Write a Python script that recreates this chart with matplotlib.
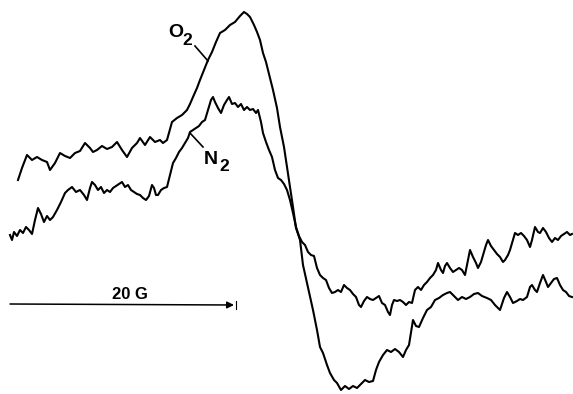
import matplotlib.pyplot as plt

# traces (x: field position, y: signal, image-like units, y down)
o2_x = [18, 22, 27, 32, 37, 42, 47, 50, 55, 60, 65, 70, 75, 80, 85, 90, 93, 97, 102, 107,
        112, 117, 122, 127, 132, 137, 140, 145, 150, 155, 160, 163, 167, 172, 177, 182, 187,
        190, 193, 197, 200, 204, 208, 212, 216, 220, 225, 230, 235, 240, 244, 247, 250, 254,
        257, 260, 263, 266, 270, 273, 277, 280, 284, 287, 290, 293, 296, 300, 303, 307, 310,
        313, 317, 320, 323, 327, 330, 334, 337, 341, 345, 349, 353, 357, 361, 365, 369, 373,
        376, 379, 383, 387, 391, 395, 399, 403, 406, 409, 413, 416, 419, 423, 427, 431, 435,
        439, 443, 447, 450, 454, 458, 462, 466, 470, 474, 478, 482, 487, 491, 495, 500, 504,
        507, 510, 513, 517, 520, 523, 527, 530, 532, 535, 537, 540, 543, 546, 548, 551, 554,
        557, 560, 563, 566, 569, 572]
o2_y = [180, 168, 155, 160, 157, 160, 162, 170, 163, 153, 156, 158, 153, 151, 143, 148, 152,
        150, 146, 149, 147, 142, 150, 157, 148, 143, 138, 145, 137, 142, 140, 143, 140, 122,
        118, 115, 110, 104, 97, 88, 80, 70, 60, 52, 42, 33, 30, 25, 22, 16, 12, 14, 17, 25, 32,
        40, 53, 62, 78, 90, 108, 127, 147, 167, 187, 207, 228, 240, 265, 283, 297, 310, 330,
        347, 353, 365, 373, 380, 383, 390, 386, 389, 386, 388, 384, 380, 382, 381, 370, 362,
        355, 350, 352, 349, 352, 357, 350, 345, 320, 326, 327, 318, 310, 307, 300, 298, 295,
        293, 292, 296, 300, 297, 299, 297, 294, 293, 296, 298, 300, 305, 310, 298, 292, 297,
        303, 301, 299, 300, 297, 287, 285, 290, 292, 283, 275, 282, 287, 283, 279, 278, 285,
        290, 292, 296, 297]

n2_x = [10, 12, 14, 17, 20, 23, 26, 29, 32, 35, 38, 41, 44, 47, 50, 53, 57, 61, 65, 68, 72,
        76, 80, 84, 87, 90, 92, 95, 98, 101, 104, 107, 110, 113, 116, 119, 122, 125, 128, 131,
        134, 137, 140, 143, 146, 149, 152, 154, 156, 158, 161, 164, 167, 170, 173, 176, 179,
        182, 185, 188, 190, 193, 196, 199, 202, 205, 208, 211, 213, 215, 218, 221, 224, 227,
        229, 232, 235, 238, 241, 244, 247, 250, 253, 256, 258, 261, 263, 266, 269, 272, 275,
        278, 281, 284, 287, 290, 293, 296, 299, 302, 305, 308, 311, 314, 317, 320, 323, 326,
        329, 332, 335, 338, 341, 344, 347, 350, 353, 356, 359, 361, 364, 367, 370, 373, 376,
        379, 382, 385, 388, 390, 392, 394, 397, 400, 403, 406, 409, 412, 415, 418, 421, 424,
        427, 430, 433, 436, 438, 441, 443, 445, 447, 450, 453, 456, 459, 462, 465, 468, 470,
        473, 476, 478, 481, 484, 486, 488, 491, 494, 497, 500, 503, 505, 508, 510, 513, 515,
        518, 521, 524, 527, 530, 532, 535, 538, 540, 543, 546, 549, 552, 555, 558, 561, 564,
        567, 570, 572]
n2_y = [235, 240, 232, 236, 230, 233, 227, 230, 234, 220, 208, 214, 222, 216, 220, 217, 210,
        202, 193, 190, 187, 192, 190, 195, 200, 188, 182, 185, 190, 187, 193, 190, 192, 188,
        186, 184, 182, 187, 185, 190, 192, 194, 195, 198, 200, 196, 185, 188, 195, 195, 190,
        188, 187, 175, 163, 158, 152, 148, 143, 138, 132, 130, 128, 126, 122, 120, 110, 100,
        97, 102, 108, 113, 105, 100, 97, 104, 103, 107, 104, 110, 107, 110, 109, 113, 110, 122,
        133, 142, 150, 157, 170, 178, 180, 184, 190, 200, 213, 227, 236, 242, 245, 252, 255,
        256, 268, 275, 278, 280, 288, 293, 292, 290, 292, 285, 288, 290, 294, 297, 305, 307,
        301, 297, 299, 300, 298, 296, 303, 305, 312, 315, 305, 300, 301, 300, 302, 305, 302,
        303, 290, 287, 290, 285, 282, 278, 275, 270, 263, 270, 273, 266, 263, 268, 272, 270,
        268, 270, 275, 260, 250, 257, 263, 268, 262, 252, 245, 240, 246, 250, 254, 257, 262,
        260, 255, 250, 240, 233, 235, 233, 236, 240, 247, 240, 227, 232, 233, 228, 232, 238,
        242, 238, 240, 236, 234, 232, 235, 234]

scale_label = "20 G"

fig = plt.figure(figsize=(5.73, 3.94), dpi=100)
ax = fig.add_axes([0, 0, 1, 1])
ax.set_xlim(0, 573)
ax.set_ylim(394, 0)
ax.axis('off')

ax.plot(o2_x, o2_y, color='black', linewidth=1.5)
ax.plot(n2_x, n2_y, color='black', linewidth=1.5)

font = dict(family='Liberation Sans', fontweight='bold', color='black')

# species labels with pointer lines
ax.text(168, 37, "O", fontsize=14, ha='left', va='baseline', **font)
ax.text(182, 45, "2", fontsize=12.5, ha='left', va='baseline', **font)
ax.plot([195, 208], [46, 61], color='black', linewidth=1.2)

ax.text(204, 164, "N", fontsize=14, ha='left', va='baseline', **font)
ax.text(219, 171, "2", fontsize=12.5, ha='left', va='baseline', **font)
ax.plot([203, 190], [147, 133], color='black', linewidth=1.2)

# 20 G scale arrow
ax.annotate("", xy=(234, 305), xytext=(10, 304),
            arrowprops=dict(arrowstyle='-|>', color='black', linewidth=1.1,
                            mutation_scale=10, shrinkA=0, shrinkB=0))
ax.plot([236, 236], [301, 309], color='black', linewidth=0.8)
ax.text(130, 299, scale_label, fontsize=12, ha='center', va='baseline', **font)

fig.savefig("out.png", dpi=100)
